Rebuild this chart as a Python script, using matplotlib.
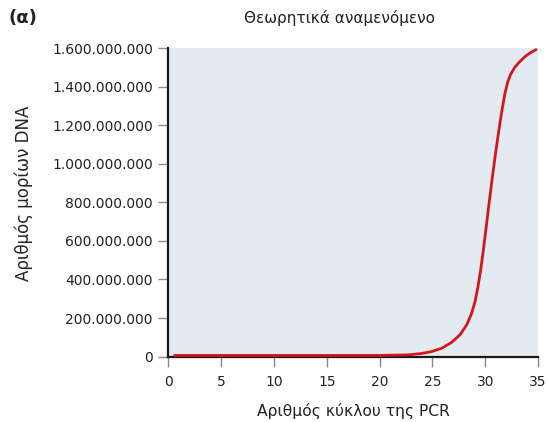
import matplotlib.pyplot as plt
from matplotlib.ticker import FuncFormatter

# PCR cycle number and theoretical number of DNA molecules (millions)
cycles = [0.6, 5, 10, 15, 20, 22.7, 23.96, 24.91, 25.87, 26.82, 27.62, 28.25,
          28.72, 29.05, 29.3, 29.55, 29.8, 30.05, 30.3, 30.55, 30.8, 31.05,
          31.3, 31.55, 31.84, 32.1, 32.38, 32.75, 33.17, 33.8, 34.3, 34.8]
molecules_millions = [6, 6, 6, 6, 6, 9, 16, 26, 43, 74, 114, 166,
                      226, 290, 360, 445, 545, 655, 770, 880, 985, 1085,
                      1180, 1268, 1360, 1420, 1462, 1497, 1525, 1558, 1577, 1592]
molecules = [m * 1e6 for m in molecules_millions]

x_ticks = [0, 5, 10, 15, 20, 25, 30, 35]
y_ticks = [0, 2e8, 4e8, 6e8, 8e8, 1e9, 1.2e9, 1.4e9, 1.6e9]


def dotted_thousands(v, pos):
    return f"{int(round(v)):,}".replace(",", ".")


fig = plt.figure(figsize=(5.48, 4.22), dpi=100)
ax = fig.add_axes([0.307, 0.155, 0.675, 0.731])
ax.set_facecolor('#e3eaf1')

ax.plot(cycles, molecules, color='#d8141b', lw=2.0, solid_capstyle='round',
        solid_joinstyle='round', zorder=5, clip_on=False)

ax.set_xlim(0, 35)
ax.set_ylim(0, 1.6e9)
ax.set_xticks(x_ticks)
ax.set_yticks(y_ticks)
ax.yaxis.set_major_formatter(FuncFormatter(dotted_thousands))

for side in ['top', 'right']:
    ax.spines[side].set_visible(False)
for side in ['left', 'bottom']:
    ax.spines[side].set_linewidth(1.6)
    ax.spines[side].set_color('#1a1a1a')

ax.tick_params(axis='both', direction='out', length=7, width=1, color='#8a8a8a',
               labelsize=10, labelcolor='#222222')
ax.tick_params(axis='x', pad=6)
ax.tick_params(axis='y', pad=4)

ax.set_xlabel('Αριθμός κύκλου της PCR', fontsize=11.2, color='#222222', labelpad=10)
ax.set_ylabel('Αριθμός μορίων DNA', fontsize=12, color='#222222')
ax.yaxis.set_label_coords(-0.366, 0.53)

fig.text(0.62, 0.957, 'Θεωρητικά αναμενόμενο', ha='center', va='center', fontsize=11, color='#222222')
fig.text(0.015, 0.957, '(α)', ha='left', va='center', fontsize=13, fontweight='bold', color='#222222')

fig.savefig('out.png', dpi=100)
